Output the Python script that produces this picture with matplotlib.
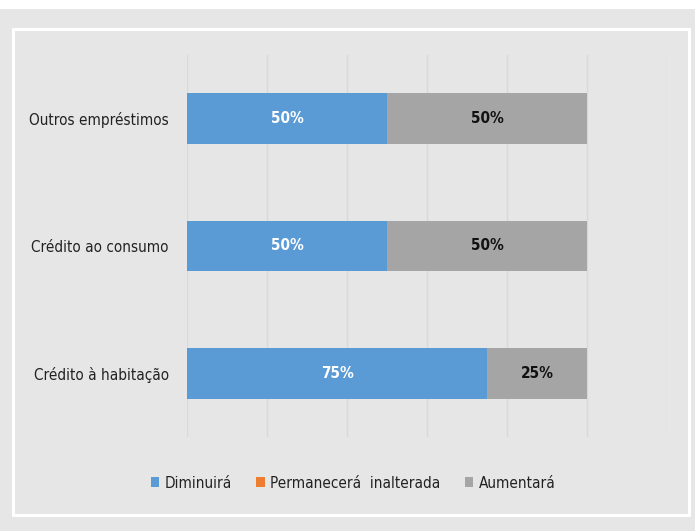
import numpy as np
import matplotlib
import matplotlib.pyplot as plt
import matplotlib.patches as mpatches
from matplotlib import font_manager

matplotlib.use("Agg")

names = {f.name for f in font_manager.fontManager.ttflist}
FONT = "Liberation Sans Narrow" if "Liberation Sans Narrow" in names else "DejaVu Sans"
plt.rcParams["font.family"] = [FONT, "DejaVu Sans"]
plt.rcParams["font.stretch"] = "condensed"

# data
categories  = ["Crédito à habitação", "Crédito ao consumo", "Outros empréstimos"]
diminuira   = [75, 50, 50]
permanecera = [0, 0, 0]
aumentara   = [25, 50, 50]
series_names = ["Diminuirá", "Permanecerá  inalterada", "Aumentará"]

BG     = "#e6e6e6"
BLUE   = "#5b9bd5"
ORANGE = "#ed7d31"
GREY   = "#a5a5a5"
GRID   = "#d9d9d9"

W, H = 695, 531
fig = plt.figure(figsize=(W / 100, H / 100), dpi=100, facecolor=BG)

# white strip at the top and white frame around the panel
fig.patches.append(mpatches.Rectangle((0, 1 - 9 / H), 1, 9 / H, transform=fig.transFigure,
                                      facecolor="white", edgecolor="none", zorder=0))
fig.patches.append(mpatches.Rectangle((13.5 / W, 1 - 514.5 / H), 675 / W, 485.5 / H,
                                      transform=fig.transFigure, facecolor="none",
                                      edgecolor="white", linewidth=2.2, zorder=1))

ax = fig.add_axes([187 / W, (H - 437) / H, 480 / W, 382 / H])
ax.set_facecolor(BG)

y = np.arange(len(categories))
left = np.zeros(len(categories))
for vals, col, lab in zip([diminuira, permanecera, aumentara], [BLUE, ORANGE, GREY], series_names):
    ax.barh(y, vals, left=left, height=0.4, color=col, label=lab, zorder=3)
    for yi, li, v in zip(y, left, vals):
        if v > 0:
            ax.text(li + v / 2, yi, f"{v}%", ha="center", va="center", fontsize=11,
                    fontweight="bold", color="white" if col == BLUE else "#111111", zorder=4)
    left = left + np.array(vals)

ax.set_xlim(0, 120)
ax.set_ylim(-0.5, len(categories) - 0.5)
ax.set_xticks(np.arange(0, 121, 20))
ax.set_xticklabels([])
ax.tick_params(axis="x", length=0)
ax.grid(axis="x", color=GRID, linewidth=1.0, zorder=0)
ax.set_yticks(y)
ax.set_yticklabels(categories, fontsize=11, color="#222222")
ax.tick_params(axis="y", length=0, pad=13)
for s in ax.spines.values():
    s.set_visible(False)

fig.legend(loc="center", bbox_to_anchor=(353 / W, 1 - 483 / H), ncol=3, frameon=False,
           fontsize=11, handlelength=0.55, handleheight=0.55, handletextpad=0.35,
           columnspacing=1.6, labelcolor="#222222")

fig.savefig("out.png", dpi=100, facecolor=BG)
